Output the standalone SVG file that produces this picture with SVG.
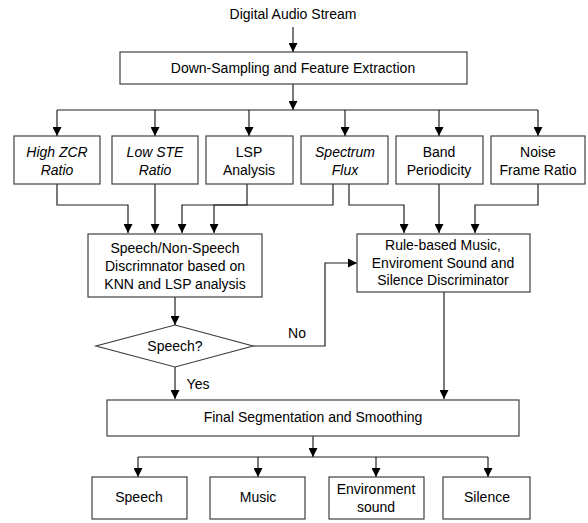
<svg xmlns="http://www.w3.org/2000/svg" width="588" height="523" viewBox="0 0 588 523">
<defs>
<marker id="ah" viewBox="0 0 10 10" refX="10" refY="5" markerWidth="9" markerHeight="9" markerUnits="userSpaceOnUse" orient="auto"><path d="M0,0 L10,5 L0,10 z" fill="#000"/></marker>
</defs>
<style>
text{font-family:"Liberation Sans",Arial,sans-serif;font-size:14px;fill:#000;text-anchor:middle}
.it{font-style:italic}
.box{fill:#fff;stroke:#404040;stroke-width:1.2}
.ln{fill:none;stroke:#202020;stroke-width:1.2}
.ar{fill:none;stroke:#202020;stroke-width:1.2;marker-end:url(#ah)}
</style>
<rect width="588" height="523" fill="#fff"/>
<g id="connectors">
<path class="ar" d="M293,27 V52"/>
<path class="ar" d="M293,84 V110"/>
<path class="ln" d="M57,110 H538"/>
<path class="ar" d="M57,110 V136"/>
<path class="ar" d="M155,110 V136"/>
<path class="ar" d="M249,110 V136"/>
<path class="ar" d="M345,110 V136"/>
<path class="ar" d="M439,110 V136"/>
<path class="ar" d="M538,110 V136"/>
<path class="ar" d="M57,184 V205 H128 V233"/>
<path class="ar" d="M155,184 V233"/>
<path class="ar" d="M247,184 V205 H182 V233"/>
<path class="ar" d="M333,184 V205 H214 V233"/>
<path class="ar" d="M349,184 V205 H404 V233"/>
<path class="ar" d="M439,184 V233"/>
<path class="ar" d="M538,184 V205 H475 V233"/>
<path class="ar" d="M175,297 V325"/>
<path class="ar" d="M253,346 H325 V263 H357"/>
<path class="ar" d="M175,367 V399"/>
<path class="ar" d="M444,292 V399"/>
<path class="ar" d="M313,436 V457"/>
<path class="ln" d="M138,457 H488"/>
<path class="ar" d="M138,457 V477"/>
<path class="ar" d="M258,457 V477"/>
<path class="ar" d="M376,457 V477"/>
<path class="ar" d="M488,457 V477"/>
<text x="297" y="338">No</text>
<text x="198" y="389">Yes</text>
</g>
<g id="title"><text x="293" y="19">Digital Audio Stream</text></g>
<g id="downsampling"><rect class="box" x="120" y="52" width="347" height="32"/><text x="293" y="73">Down-Sampling and Feature Extraction</text></g>
<g id="zcr"><rect class="box" x="14" y="136" width="86" height="48"/><text class="it" x="57" y="157">High ZCR</text><text class="it" x="57" y="175">Ratio</text></g>
<g id="ste"><rect class="box" x="112" y="136" width="86" height="48"/><text class="it" x="155" y="157">Low STE</text><text class="it" x="155" y="175">Ratio</text></g>
<g id="lsp"><rect class="box" x="206" y="136" width="87" height="48"/><text x="249" y="157">LSP</text><text x="249" y="175">Analysis</text></g>
<g id="flux"><rect class="box" x="301" y="136" width="87" height="48"/><text class="it" x="345" y="157">Spectrum</text><text class="it" x="345" y="175">Flux</text></g>
<g id="band"><rect class="box" x="396" y="136" width="87" height="48"/><text x="439" y="157">Band</text><text x="439" y="175">Periodicity</text></g>
<g id="noise"><rect class="box" x="491" y="136" width="94" height="48"/><text x="538" y="157">Noise</text><text x="538" y="175">Frame Ratio</text></g>
<g id="speechdisc"><rect class="box" x="88" y="234" width="174" height="63"/><text x="175" y="253">Speech/Non-Speech</text><text x="175" y="271">Discrimnator based on</text><text x="175" y="288.5">KNN and LSP analysis</text></g>
<g id="rulebased"><rect class="box" x="357" y="234" width="173" height="58"/><text x="443" y="250">Rule-based Music,</text><text x="443" y="268">Enviroment Sound and</text><text x="443" y="285">Silence Discriminator</text></g>
<g id="decision"><polygon class="box" points="175,325 253,346 175,367 96,346"/><text x="175" y="351">Speech?</text></g>
<g id="final"><rect class="box" x="107" y="400" width="412" height="36"/><text x="313" y="422">Final Segmentation and Smoothing</text></g>
<g id="out-speech"><rect class="box" x="92" y="477" width="95" height="42"/><text x="139" y="502">Speech</text></g>
<g id="out-music"><rect class="box" x="210" y="477" width="95" height="42"/><text x="258" y="502">Music</text></g>
<g id="out-env"><rect class="box" x="329" y="477" width="95" height="42"/><text x="376" y="493.5">Environment</text><text x="376" y="511.5">sound</text></g>
<g id="out-silence"><rect class="box" x="443" y="477" width="87" height="42"/><text x="487" y="502">Silence</text></g>
</svg>
